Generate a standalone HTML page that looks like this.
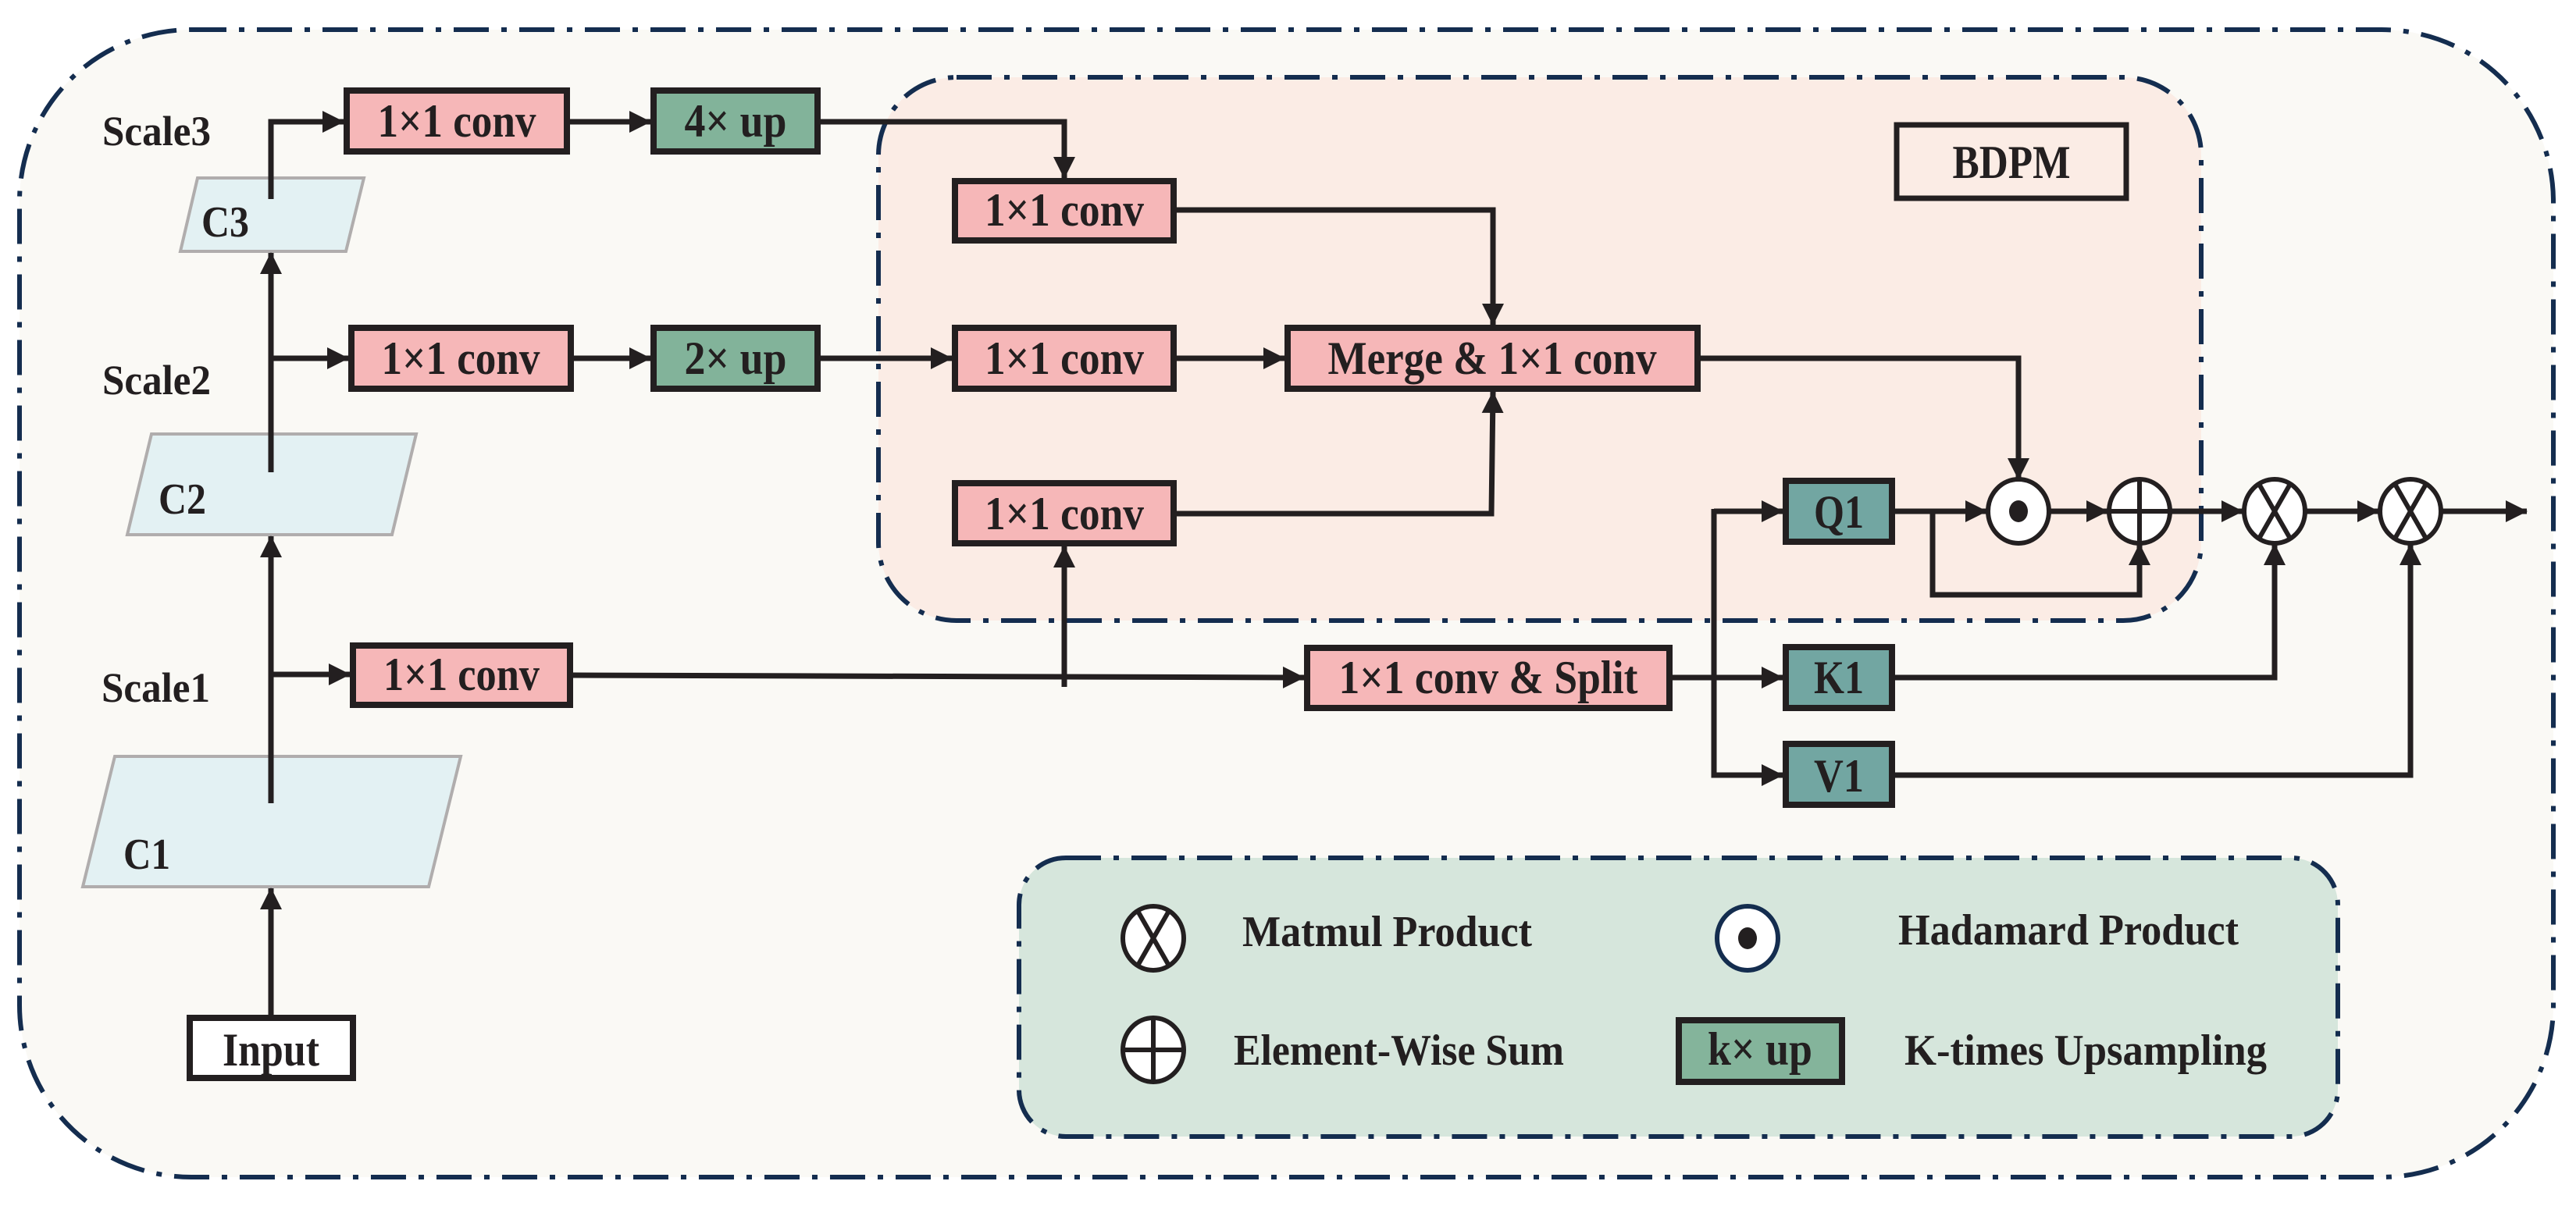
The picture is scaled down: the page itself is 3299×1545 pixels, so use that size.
<!DOCTYPE html>
<html><head><meta charset="utf-8"><style>
html,body{margin:0;padding:0;background:#fff;}
svg{display:block;}
text{font-family:"Liberation Serif",serif;font-weight:bold;fill:#231f20;}
</style></head><body>
<svg width="3299" height="1545" viewBox="0 0 3299 1545" xmlns="http://www.w3.org/2000/svg">
<defs>
<marker id="a" viewBox="0 0 28 28" markerWidth="28" markerHeight="28" refX="27" refY="14" orient="auto" markerUnits="userSpaceOnUse"><path d="M0,0 L28,14 L0,28 z" fill="#231f20"/></marker>
</defs>
<rect x="0" y="0" width="3299" height="1545" fill="#fff"/>
<rect x="25" y="38" width="3245" height="1470" rx="220" fill="#faf9f5" stroke="#142d4f" stroke-width="6" stroke-dasharray="45 16 7 16"/>
<rect x="1125" y="99" width="1694" height="696" rx="100" fill="#fbece5" stroke="#142d4f" stroke-width="6" stroke-dasharray="45 16 7 16"/>
<rect x="1305" y="1099" width="1689" height="357" rx="60" fill="#d6e6dc" stroke="#142d4f" stroke-width="6" stroke-dasharray="45 16 7 16"/>

<polygon points="253,228 466,228 443,322 231,322" fill="#e3f1f3" stroke="#b0adad" stroke-width="4"/>
<polygon points="194,556 533,556 502,685 163,685" fill="#e3f1f3" stroke="#b0adad" stroke-width="4"/>
<polygon points="147,969 590,969 549,1136 106,1136" fill="#e3f1f3" stroke="#b0adad" stroke-width="4"/>
<g font-size="56">
<text x="258" y="303" textLength="61" lengthAdjust="spacingAndGlyphs">C3</text>
<text x="203" y="658" textLength="61" lengthAdjust="spacingAndGlyphs">C2</text>
<text x="158" y="1113" textLength="60" lengthAdjust="spacingAndGlyphs">C1</text>
</g>
<g font-size="54">
<text x="131" y="186" textLength="139" lengthAdjust="spacingAndGlyphs">Scale3</text>
<text x="131" y="505" textLength="139" lengthAdjust="spacingAndGlyphs">Scale2</text>
<text x="130" y="899" textLength="139" lengthAdjust="spacingAndGlyphs">Scale1</text>
</g>

<g fill="none" stroke="#231f20" stroke-width="7">
<line x1="347" y1="1300" x2="347" y2="1138" marker-end="url(#a)"/>
<line x1="347" y1="1029" x2="347" y2="687" marker-end="url(#a)"/>
<line x1="347" y1="605" x2="347" y2="324" marker-end="url(#a)"/>
<polyline points="347,255 347,156 440,156" marker-end="url(#a)"/>
<line x1="347" y1="459" x2="446" y2="459" marker-end="url(#a)"/>
<line x1="347" y1="864" x2="448" y2="864" marker-end="url(#a)"/>
<line x1="730" y1="156" x2="833" y2="156" marker-end="url(#a)"/>
<polyline points="1051,156 1363,156 1363,228" marker-end="url(#a)"/>
<line x1="735" y1="459" x2="833" y2="459" marker-end="url(#a)"/>
<line x1="1051" y1="459" x2="1219" y2="459" marker-end="url(#a)"/>
<line x1="1507" y1="459" x2="1645" y2="459" marker-end="url(#a)"/>
<polyline points="1507,269 1912,269 1912,416" marker-end="url(#a)"/>
<polyline points="1507,658 1910,658 1912,502" marker-end="url(#a)"/>
<polyline points="734,865 1670,868" marker-end="url(#a)"/>
<line x1="1363" y1="880" x2="1363" y2="700" marker-end="url(#a)"/>
<polyline points="2178,459 2585,459 2585,614" marker-end="url(#a)"/>
<line x1="2142" y1="868" x2="2283" y2="868" marker-end="url(#a)"/>
<line x1="2195" y1="655" x2="2283" y2="655" marker-end="url(#a)"/>
<polyline points="2195,652 2195,993 2283,993" marker-end="url(#a)"/>
<line x1="2427" y1="655" x2="2544" y2="655" marker-end="url(#a)"/>
<line x1="2626" y1="655" x2="2699" y2="655" marker-end="url(#a)"/>
<line x1="2781" y1="655" x2="2872" y2="655" marker-end="url(#a)"/>
<line x1="2954" y1="655" x2="3046" y2="655" marker-end="url(#a)"/>
<line x1="3128" y1="655" x2="3236" y2="655" marker-end="url(#a)"/>
<polyline points="2475,655 2475,762 2740,762 2740,697" marker-end="url(#a)"/>
<polyline points="2427,868 2913,868 2913,697" marker-end="url(#a)"/>
<polyline points="2427,993 3087,993 3087,697" marker-end="url(#a)"/>
</g>

<g stroke="#231f20" stroke-width="8">
<rect x="444" y="116" width="282" height="78" fill="#f6b7b8"/>
<rect x="837" y="116" width="210" height="78" fill="#82b39a"/>
<rect x="450" y="420" width="281" height="78" fill="#f6b7b8"/>
<rect x="837" y="420" width="210" height="78" fill="#82b39a"/>
<rect x="452" y="827" width="278" height="76" fill="#f6b7b8"/>
<rect x="1223" y="232" width="280" height="76" fill="#f6b7b8"/>
<rect x="1223" y="420" width="280" height="78" fill="#f6b7b8"/>
<rect x="1223" y="619" width="280" height="77" fill="#f6b7b8"/>
<rect x="1649" y="420" width="525" height="78" fill="#f6b7b8"/>
<rect x="1674" y="830" width="464" height="77" fill="#f6b7b8"/>
<rect x="2287" y="616" width="136" height="78" fill="#72a6a2"/>
<rect x="2287" y="829" width="136" height="78" fill="#72a6a2"/>
<rect x="2287" y="953" width="136" height="78" fill="#72a6a2"/>
<rect x="2150" y="1307" width="209" height="79" fill="#84b49b"/>
</g>
<rect x="243" y="1304" width="209" height="77" fill="#fff" stroke="#231f20" stroke-width="8"/>
<rect x="2429" y="160" width="294" height="94" fill="none" stroke="#231f20" stroke-width="7"/>

<g font-size="60" text-anchor="middle">
<text x="585" y="175" textLength="203" lengthAdjust="spacingAndGlyphs">1×1 conv</text>
<text x="942" y="175" textLength="131" lengthAdjust="spacingAndGlyphs">4× up</text>
<text x="590" y="479" textLength="203" lengthAdjust="spacingAndGlyphs">1×1 conv</text>
<text x="942" y="479" textLength="131" lengthAdjust="spacingAndGlyphs">2× up</text>
<text x="591" y="884" textLength="200" lengthAdjust="spacingAndGlyphs">1×1 conv</text>
<text x="1363" y="289" textLength="204" lengthAdjust="spacingAndGlyphs">1×1 conv</text>
<text x="1363" y="479" textLength="204" lengthAdjust="spacingAndGlyphs">1×1 conv</text>
<text x="1363" y="678" textLength="204" lengthAdjust="spacingAndGlyphs">1×1 conv</text>
<text x="1911" y="479" textLength="421" lengthAdjust="spacingAndGlyphs">Merge &amp; 1×1 conv</text>
<text x="1906" y="888" textLength="383" lengthAdjust="spacingAndGlyphs">1×1 conv &amp; Split</text>
<text x="2355" y="676" textLength="64" lengthAdjust="spacingAndGlyphs">Q1</text>
<text x="2355" y="888" textLength="64" lengthAdjust="spacingAndGlyphs">K1</text>
<text x="2355" y="1014" textLength="64" lengthAdjust="spacingAndGlyphs">V1</text>
<text x="347" y="1365" textLength="124" lengthAdjust="spacingAndGlyphs">Input</text>
<text x="2576" y="228" textLength="151" lengthAdjust="spacingAndGlyphs">BDPM</text>
<text x="2254" y="1364" textLength="134" lengthAdjust="spacingAndGlyphs" font-weight="normal">k× up</text>
</g>

<g stroke="#231f20" stroke-width="6" fill="#fff">
<ellipse cx="2585" cy="655" rx="39" ry="41"/>
<ellipse cx="2740" cy="655" rx="39" ry="41"/>
<ellipse cx="2913" cy="655" rx="39" ry="41"/>
<ellipse cx="3087" cy="655" rx="39" ry="41"/>
<ellipse cx="1477" cy="1202" rx="39" ry="41"/>
<ellipse cx="1477" cy="1345" rx="39" ry="41"/>
<ellipse cx="2238" cy="1202" rx="39" ry="41" stroke="#142d4f"/>
</g>
<ellipse cx="2585" cy="655" rx="12" ry="14" fill="#231f20"/>
<ellipse cx="2238" cy="1202" rx="12" ry="14" fill="#231f20"/>
<g stroke="#231f20" stroke-width="6">
<line x1="2740" y1="614" x2="2740" y2="696"/><line x1="2701" y1="655" x2="2779" y2="655"/>
<line x1="1477" y1="1304" x2="1477" y2="1386"/><line x1="1438" y1="1345" x2="1516" y2="1345"/>
<line x1="2893" y1="620" x2="2933" y2="690"/><line x1="2933" y1="620" x2="2893" y2="690"/>
<line x1="3067" y1="620" x2="3107" y2="690"/><line x1="3107" y1="620" x2="3067" y2="690"/>
<line x1="1457" y1="1167" x2="1497" y2="1237"/><line x1="1497" y1="1167" x2="1457" y2="1237"/>
</g>

<g font-size="56">
<text x="1591" y="1212" textLength="371" lengthAdjust="spacingAndGlyphs">Matmul Product</text>
<text x="2431" y="1210" textLength="436" lengthAdjust="spacingAndGlyphs">Hadamard Product</text>
<text x="1580" y="1364" textLength="423" lengthAdjust="spacingAndGlyphs">Element-Wise Sum</text>
<text x="2439" y="1364" textLength="464" lengthAdjust="spacingAndGlyphs">K-times Upsampling</text>
</g>
</svg>
</body></html>
